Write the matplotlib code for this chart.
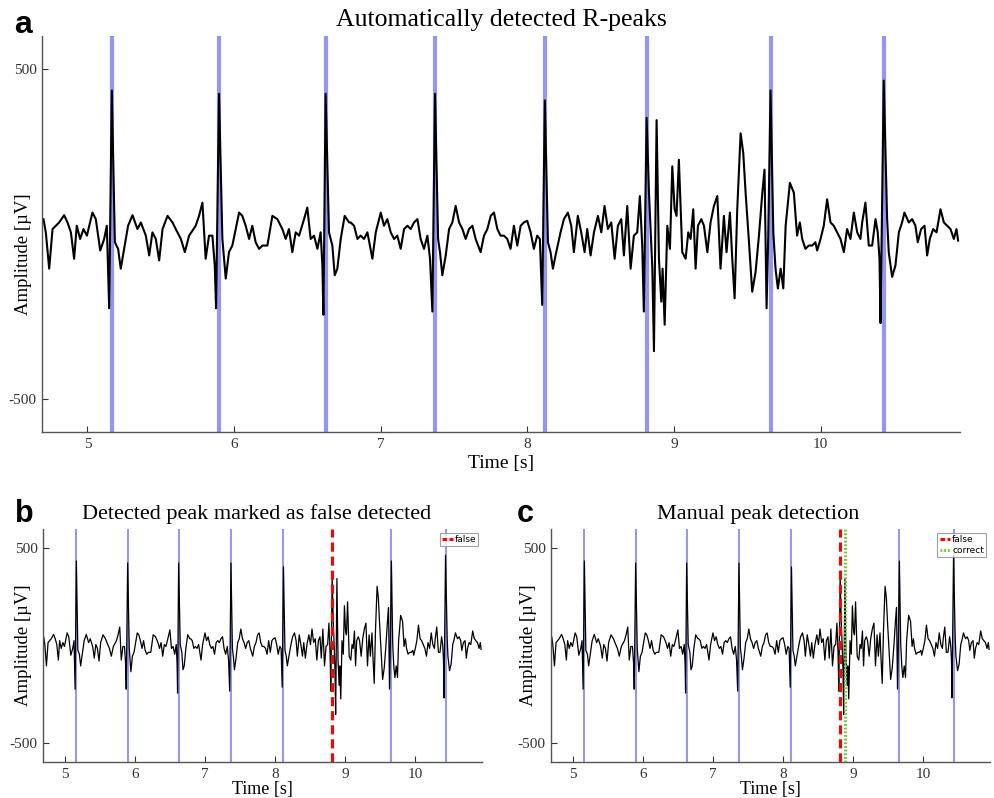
import matplotlib
matplotlib.use("Agg")
import matplotlib.pyplot as plt
from matplotlib.lines import Line2D

# ---------------- data ----------------
time_s = [
    4.700, 4.716, 4.739, 4.762, 4.784, 4.807, 4.841, 4.864, 4.887, 4.909,
    4.927, 4.950, 4.973, 4.996, 5.034, 5.057, 5.087, 5.114, 5.132, 5.148,
    5.166, 5.187, 5.209, 5.227, 5.250, 5.277, 5.307, 5.341, 5.364, 5.398,
    5.421, 5.443, 5.466, 5.489, 5.512, 5.546, 5.580, 5.602, 5.637, 5.664,
    5.693, 5.738, 5.761, 5.784, 5.806, 5.829, 5.852, 5.868, 5.877, 5.897,
    5.920, 5.943, 5.965, 5.988, 6.011, 6.034, 6.056, 6.079, 6.102, 6.124,
    6.147, 6.170, 6.193, 6.227, 6.261, 6.295, 6.329, 6.352, 6.374, 6.397,
    6.420, 6.443, 6.477, 6.499, 6.522, 6.545, 6.568, 6.590, 6.602, 6.609,
    6.624, 6.647, 6.670, 6.686, 6.704, 6.727, 6.754, 6.784, 6.795, 6.818,
    6.841, 6.863, 6.886, 6.909, 6.943, 6.966, 7.000, 7.022, 7.045, 7.068,
    7.091, 7.113, 7.136, 7.159, 7.182, 7.204, 7.227, 7.250, 7.272, 7.295,
    7.318, 7.336, 7.352, 7.370, 7.391, 7.404, 7.420, 7.443, 7.466, 7.488,
    7.511, 7.534, 7.557, 7.579, 7.602, 7.625, 7.647, 7.681, 7.704, 7.727,
    7.750, 7.772, 7.795, 7.817, 7.840, 7.863, 7.885, 7.908, 7.931, 7.954,
    7.976, 7.999, 8.022, 8.044, 8.067, 8.085, 8.101, 8.119, 8.140, 8.158,
    8.174, 8.192, 8.226, 8.249, 8.276, 8.299, 8.317, 8.344, 8.367, 8.390,
    8.408, 8.431, 8.454, 8.481, 8.504, 8.526, 8.549, 8.572, 8.595, 8.617,
    8.640, 8.658, 8.681, 8.704, 8.726, 8.749, 8.767, 8.783, 8.794, 8.813,
    8.829, 8.852, 8.863, 8.881, 8.897, 8.913, 8.922, 8.936, 8.954, 8.972,
    8.988, 9.004, 9.017, 9.033, 9.056, 9.079, 9.097, 9.113, 9.131, 9.147,
    9.163, 9.186, 9.204, 9.227, 9.249, 9.272, 9.295, 9.317, 9.340, 9.358,
    9.381, 9.397, 9.413, 9.431, 9.454, 9.472, 9.488, 9.511, 9.533, 9.556,
    9.579, 9.602, 9.617, 9.631, 9.642, 9.658, 9.677, 9.692, 9.708, 9.727,
    9.745, 9.761, 9.790, 9.817, 9.839, 9.858, 9.874, 9.896, 9.919, 9.942,
    9.964, 9.976, 9.999, 10.021, 10.044, 10.067, 10.089, 10.112, 10.135, 10.158,
    10.180, 10.203, 10.226, 10.249, 10.271, 10.283, 10.305, 10.328, 10.351, 10.374,
    10.389, 10.401, 10.408, 10.430, 10.453, 10.464, 10.487, 10.510, 10.533, 10.555,
    10.571, 10.601, 10.624, 10.646, 10.662, 10.685, 10.708, 10.726, 10.744, 10.767,
    10.790, 10.817, 10.840, 10.862, 10.885, 10.908, 10.926, 10.937,
]
amplitude_uv = [
    45, 5, -105, 15, 25, 35, 57, 35, 5, -75,
    25, -15, 15, -5, 65, 45, -50, -15, 25, -225,
    435, -25, -45, -105, -45, 25, 57, 15, 35, -5,
    -65, 5, -15, -80, 15, 55, 35, 15, -15, -55,
    -5, 25, 55, 95, -75, -5, -5, -95, -225, 425,
    -15, -135, -55, -35, 15, 65, 55, 25, -15, 25,
    -25, -45, -35, -35, 55, 45, 15, -15, 15, -55,
    5, -5, 45, 80, -15, -5, -45, 5, -95, -245,
    425, 5, -35, -125, -105, -15, 55, 35, 35, 25,
    -15, -5, -15, 5, -75, 5, 65, 25, 45, 5,
    -15, -5, -45, 15, 25, 15, 35, 45, -15, -45,
    -5, -75, -235, 425, -15, -55, -125, -65, 15, 35,
    85, 35, 15, -15, 15, 25, -15, -55, -5, 15,
    55, 65, 15, -5, -5, -15, -45, 25, -35, 25,
    35, 40, 5, -45, -5, -15, -215, 405, -25, -55,
    -105, -65, 5, 45, 65, 25, -55, 55, 5, -55,
    15, -65, 5, 55, 5, 85, 15, 35, -75, 25,
    45, -65, 85, -105, -5, 5, 115, -35, -235, 352,
    125, -105, -355, 345, -75, -205, -105, -275, 25, -45,
    205, 75, 55, 225, -55, -75, 5, -15, 75, -105,
    25, 45, 25, -55, 35, 85, 115, -105, 55, -55,
    65, -75, -195, 75, 305, 245, 125, -25, -175, -115,
    -5, 125, 195, -225, -15, 435, 5, -105, -165, -105,
    -165, 25, 155, 125, -5, 35, -15, -45, -35, -35,
    -25, -50, -15, 25, 105, 35, 25, 5, -15, -55,
    15, -15, 65, 5, -15, 35, 95, -35, -35, 45,
    5, -75, -270, 465, 45, -55, -130, -95, 5, 35,
    65, 35, 45, 25, -25, 15, 25, -65, -15, 15,
    5, 75, 35, 25, 15, -15, 15, -20,
]
rpeak_times = [5.166, 5.897, 6.624, 7.370, 8.119, 8.813, 9.658, 10.430]
false_peak = 8.813
correct_peak = 8.881

x_ticks = [5, 6, 7, 8, 9, 10]
y_ticks = [-500, 500]
x_limits = (4.69, 10.95)
y_limits = (-600, 600)

titles = ["Automatically detected R-peaks",
          "Detected peak marked as false detected",
          "Manual peak detection"]
panel_letters = ["a", "b", "c"]

# ---------------- styling ----------------
SERIF = ["Liberation Serif", "DejaVu Serif"]
SANS = ["Liberation Sans", "DejaVu Sans"]
BLUE = "#9494ff"
GREEN = "#6ccc3a"
W, H = 995, 798
fig = plt.figure(figsize=(W / 100, H / 100), dpi=100)


def frac(l, t, r, b):
    return [l / W, 1 - b / H, (r - l) / W, (b - t) / H]


def style_axes(ax, fs_tick, fs_label, xlabelpad, ylab_xy):
    ax.set_xlim(*x_limits)
    ax.set_ylim(*y_limits)
    ax.set_xticks(x_ticks)
    ax.set_yticks(y_ticks)
    ax.set_xticklabels([str(v) for v in x_ticks], family=SERIF, fontsize=fs_tick)
    ax.set_yticklabels([str(v) for v in y_ticks], family=SERIF, fontsize=fs_tick)
    ax.tick_params(direction="in", length=4, width=0.8, colors="#333333", pad=4)
    for s in ("top", "right"):
        ax.spines[s].set_visible(False)
    for s in ("left", "bottom"):
        ax.spines[s].set_color("#555555")
        ax.spines[s].set_linewidth(1.0)
    ax.set_xlabel("Time [s]", family=SERIF, fontsize=fs_label, labelpad=xlabelpad)
    ax.set_ylabel("Amplitude [\u00b5V]", family=SERIF, fontsize=13.5)
    ax.yaxis.set_label_coords(*ylab_xy)


# ---- panel a ----
axa = fig.add_axes(frac(42, 36, 960, 432))
for t in rpeak_times:
    axa.axvline(t, color=BLUE, lw=3.0, zorder=1)
axa.plot(time_s, amplitude_uv, color="black", lw=1.5, zorder=2)
style_axes(axa, 11, 14, 3, (-0.011, 0.45))
axa.set_title(titles[0], family=SERIF, fontsize=18.5, pad=7)
fig.text(14 / W, 1 - 33 / H, panel_letters[0], fontsize=23, fontweight="bold",
         family=SANS)

# ---- panel b ----
axb = fig.add_axes(frac(43, 529, 482, 762))
for t in rpeak_times:
    if abs(t - false_peak) > 1e-6:
        axb.axvline(t, color=BLUE, lw=1.4, zorder=1)
axb.plot(time_s, amplitude_uv, color="black", lw=0.9, zorder=2)
axb.axvline(false_peak, color="red", lw=2.2, ls=(0, (3, 1.6)), zorder=3)
style_axes(axb, 11, 13, 0, (-0.025, 0.5))
axb.set_title(titles[1], family=SERIF, fontsize=16, pad=7, x=0.487)
fig.text(15 / W, 1 - 522 / H, panel_letters[1], fontsize=22, fontweight="bold",
         family=SANS)
hb = [Line2D([], [], color="red", lw=2.2, ls=(0, (1.5, 0.8)))]
legb = axb.legend(hb, ["false"], loc="upper right", fontsize=6.5, frameon=True,
                  fancybox=False, handlelength=1.2, handletextpad=0.2,
                  borderpad=0.25, borderaxespad=0.4)
legb.get_frame().set_edgecolor("#888888")
legb.get_frame().set_linewidth(0.8)

# ---- panel c ----
axc = fig.add_axes(frac(551, 529, 990, 762))
for t in rpeak_times:
    if abs(t - false_peak) > 1e-6:
        axc.axvline(t, color=BLUE, lw=1.4, zorder=1)
axc.plot(time_s, amplitude_uv, color="black", lw=0.9, zorder=2)
axc.axvline(false_peak, color="red", lw=2.2, ls=(0, (3, 1.6)), zorder=3)
axc.axvline(correct_peak, color=GREEN, lw=2.2, ls=(0, (0.6, 0.6)), zorder=3)
style_axes(axc, 11, 13, 0, (-0.032, 0.5))
axc.set_title(titles[2], family=SERIF, fontsize=16, pad=7, x=0.4715)
fig.text(517 / W, 1 - 522 / H, panel_letters[2], fontsize=22, fontweight="bold",
         family=SANS)
hc = [Line2D([], [], color="red", lw=2.2, ls=(0, (1.5, 0.8))),
      Line2D([], [], color=GREEN, lw=2.2, ls=(0, (0.6, 0.6)))]
legc = axc.legend(hc, ["false", "correct"], loc="upper right", fontsize=6.5,
                  frameon=True, fancybox=False, handlelength=1.2,
                  handletextpad=0.2, borderpad=0.25, borderaxespad=0.4,
                  labelspacing=0.2)
legc.get_frame().set_edgecolor("#888888")
legc.get_frame().set_linewidth(0.8)

fig.savefig("out.png", dpi=100)
